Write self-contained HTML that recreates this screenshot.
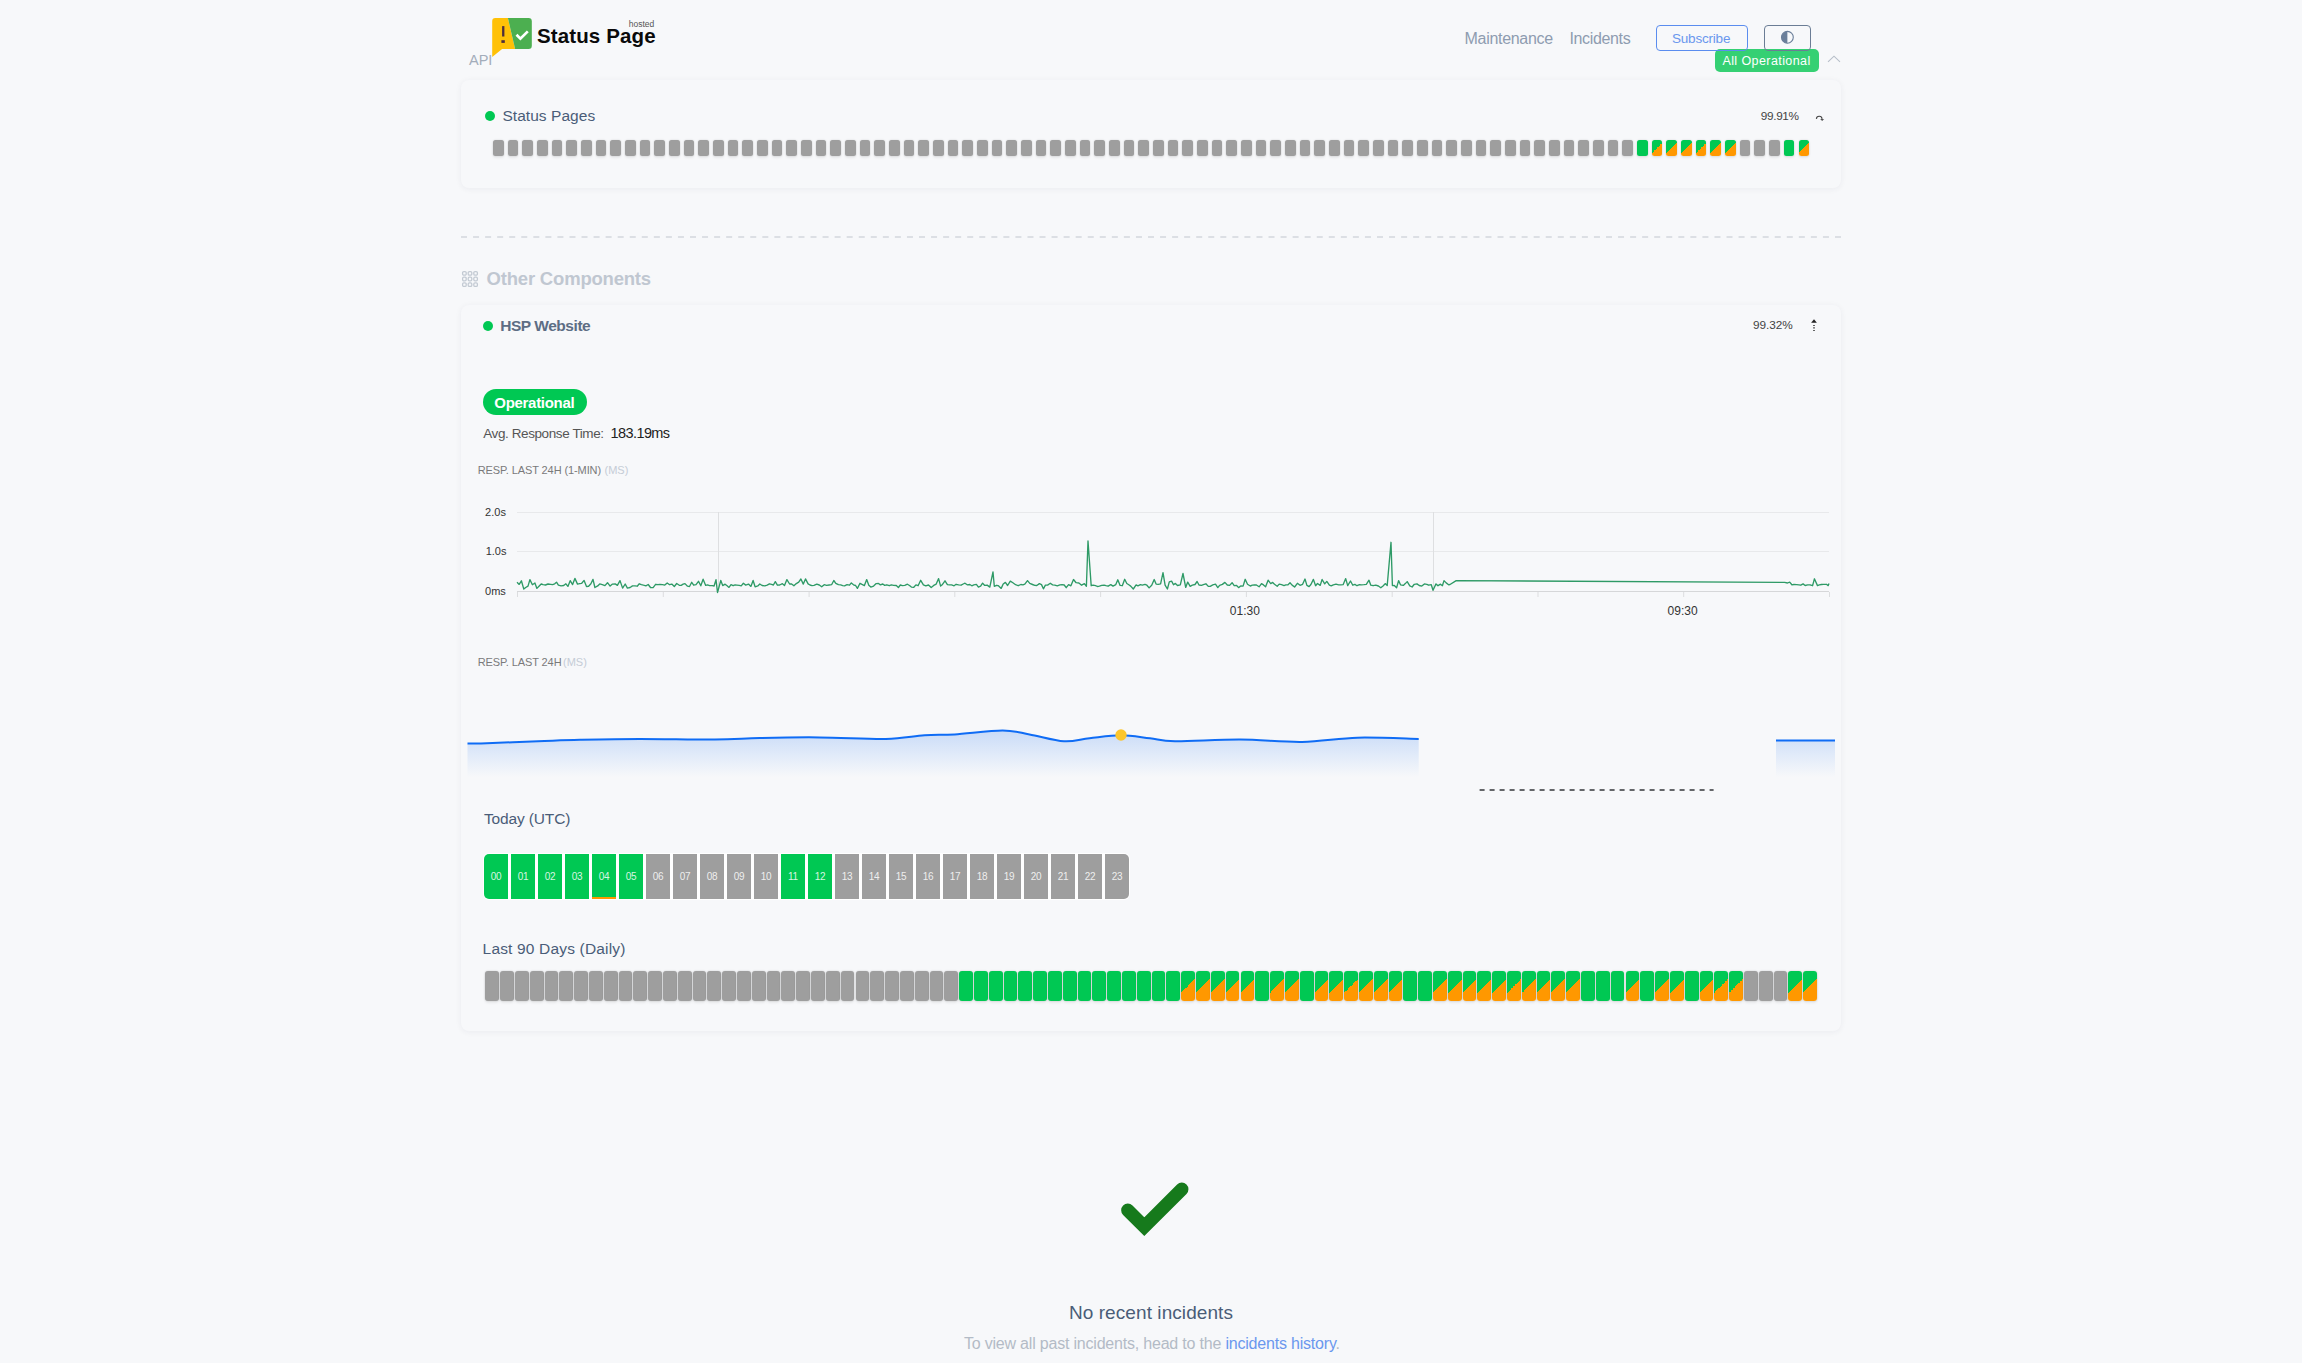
<!DOCTYPE html>
<html><head><meta charset="utf-8"><title>Status Page</title><style>
*{margin:0;padding:0;box-sizing:border-box}
html,body{width:2302px;height:1363px;overflow:hidden;background:#f7f8fa}
body{position:relative;font-family:"Liberation Sans",sans-serif;-webkit-font-smoothing:antialiased}
.abs{position:absolute}
.t{position:absolute;white-space:pre}
.card{position:absolute;border-radius:8px;background:#f7f8fa;box-shadow:0 1px 6px rgba(30,40,60,0.06)}
.b1{position:absolute;top:140px;width:10.5px;height:16px;border-radius:2.5px;box-shadow:0 0 2px rgba(0,0,0,0.16),0 2px 3px rgba(0,0,0,0.06)}
.b2{position:absolute;top:971px;width:13.8px;height:30px;border-radius:3px;box-shadow:0 0 2px rgba(0,0,0,0.2),0 2px 3px rgba(0,0,0,0.06)}
.hb{position:absolute;top:854px;width:24px;height:45px;color:rgba(255,255,255,0.85);font-size:10px;line-height:45px;text-align:center;letter-spacing:-0.2px}
</style></head>
<body>
<div class="card" style="left:461px;top:80px;width:1380px;height:108px"></div>
<div class="card" style="left:461px;top:305px;width:1380px;height:726px"></div>
<svg class="abs" style="left:0;top:0" width="2302" height="1363" viewBox="0 0 2302 1363"><g stroke-width="1" fill="none"><path d="M517 512.5 H1829 M517 551.5 H1829" stroke="#e8e9eb"/><path d="M718.5 512 V592 M1433.5 512 V592" stroke="#dedfe1"/><path d="M517 591.5 H1829" stroke="#d6d7d9"/><path d="M517.5 592 V597 M663.3 592 V597 M809.1 592 V597 M954.8 592 V597 M1100.6 592 V597 M1246.4 592 V597 M1392.2 592 V597 M1538.0 592 V597 M1683.7 592 V597 M1829.5 592 V597" stroke="#dcdddf"/></g><path d="M517.0 582.3 L519.2 584.4 L521.4 580.8 L523.8 589.1 L525.7 587.5 L528.0 586.1 L529.9 579.6 L532.4 584.7 L534.9 583.0 L536.9 588.4 L539.2 586.0 L541.2 584.0 L543.1 584.7 L545.5 585.0 L548.0 584.0 L550.7 584.3 L552.6 584.6 L554.7 583.8 L556.5 582.2 L558.4 585.1 L561.1 585.9 L563.7 585.5 L565.9 583.8 L567.9 586.4 L570.2 580.7 L572.6 584.6 L574.9 578.4 L577.5 584.1 L579.7 583.7 L581.7 583.3 L584.1 580.4 L586.5 586.5 L588.6 586.3 L590.9 583.8 L593.0 579.4 L594.9 587.5 L597.7 585.9 L599.7 583.9 L602.3 584.7 L604.9 585.6 L607.5 582.7 L610.1 586.1 L612.5 584.1 L615.2 583.9 L617.4 585.4 L620.0 580.6 L622.6 588.1 L625.2 584.0 L627.4 588.1 L630.1 587.5 L632.5 585.9 L635.0 585.9 L637.2 586.2 L639.3 583.8 L641.4 584.6 L643.5 585.2 L645.9 585.8 L648.2 584.5 L650.5 587.5 L653.1 587.6 L655.6 584.3 L658.0 584.7 L659.9 584.4 L662.5 584.7 L664.8 585.1 L667.2 583.0 L669.6 584.7 L671.8 584.1 L674.3 586.5 L676.7 583.5 L679.3 585.3 L681.2 585.3 L683.1 584.2 L685.0 583.6 L687.5 586.2 L689.5 586.5 L691.7 582.3 L693.7 585.2 L696.0 584.7 L698.5 581.3 L700.8 585.8 L703.1 579.2 L705.7 585.4 L707.5 584.9 L709.6 585.6 L712.2 585.7 L714.1 586.0 L716.0 579.7 L717.5 592.5 L720.8 580.5 L722.7 585.6 L725.1 584.2 L727.1 585.8 L729.0 587.4 L731.0 584.7 L733.1 585.7 L735.1 584.9 L736.9 585.1 L739.3 585.4 L741.2 585.9 L743.4 583.3 L745.7 585.1 L748.5 584.1 L750.9 586.4 L753.1 580.5 L755.1 586.8 L757.8 585.9 L759.8 584.0 L762.1 585.5 L764.9 585.8 L767.2 585.1 L769.4 583.8 L771.6 584.4 L773.4 585.0 L775.3 581.6 L777.4 585.2 L779.7 585.0 L782.4 583.7 L784.5 585.5 L786.9 579.6 L789.6 584.0 L791.6 583.9 L793.9 585.8 L796.3 583.6 L798.7 582.2 L800.9 579.0 L803.3 584.1 L805.5 578.9 L808.1 583.9 L810.0 585.0 L812.0 585.6 L814.0 585.3 L816.8 584.1 L819.3 585.0 L821.7 586.8 L824.2 584.7 L826.6 585.3 L829.1 585.0 L831.6 584.7 L833.8 580.5 L835.8 583.3 L838.4 584.7 L840.7 584.9 L842.7 585.6 L844.6 585.9 L847.0 584.7 L849.5 585.2 L851.3 582.9 L853.5 584.8 L855.6 585.5 L857.4 588.4 L860.0 583.3 L862.0 584.4 L864.4 585.6 L866.7 579.6 L868.8 585.3 L870.8 587.1 L873.6 586.1 L876.2 583.6 L878.5 583.5 L880.4 584.9 L882.8 584.0 L884.7 585.4 L886.8 584.8 L889.3 585.7 L891.4 584.9 L893.6 585.3 L896.3 585.5 L898.4 587.5 L900.3 585.0 L902.4 585.6 L904.8 585.4 L907.4 584.2 L909.5 585.5 L911.4 587.1 L913.8 587.3 L915.9 584.9 L918.1 585.7 L920.7 580.3 L923.4 584.9 L925.8 585.9 L928.5 585.0 L931.2 587.5 L933.7 585.4 L936.2 584.1 L938.6 578.6 L940.6 586.1 L942.5 584.4 L945.0 580.8 L947.4 584.6 L949.4 584.9 L951.6 584.9 L954.1 585.8 L956.1 584.3 L958.6 584.9 L961.1 585.2 L963.2 584.0 L965.0 583.2 L967.2 584.8 L969.8 584.5 L971.8 585.8 L973.8 584.9 L976.4 584.4 L978.4 587.1 L980.6 586.2 L982.6 583.1 L984.5 585.3 L987.2 585.1 L989.8 587.1 L993.0 572.0 L994.3 586.3 L996.5 585.3 L998.4 585.7 L1001.2 588.4 L1003.2 584.0 L1005.4 582.4 L1007.6 585.5 L1010.3 581.1 L1012.9 582.8 L1015.6 584.7 L1018.2 585.7 L1020.9 584.5 L1023.0 584.8 L1024.8 584.2 L1027.5 580.6 L1029.8 583.4 L1032.5 584.5 L1034.8 585.4 L1036.8 585.5 L1039.4 583.6 L1041.5 584.6 L1043.4 588.8 L1045.4 585.2 L1047.6 585.1 L1050.3 583.3 L1052.6 584.9 L1054.8 585.1 L1057.3 585.9 L1059.9 584.8 L1062.0 584.6 L1064.2 585.0 L1066.2 587.7 L1068.6 584.6 L1070.9 585.8 L1073.5 579.5 L1076.1 582.7 L1078.9 583.0 L1081.6 585.2 L1084.4 583.7 L1086.4 586.3 L1088.0 541.0 L1091.2 585.7 L1093.1 585.2 L1095.6 585.7 L1097.4 586.5 L1099.4 586.2 L1101.7 585.4 L1104.1 585.2 L1106.0 585.7 L1108.1 586.2 L1110.8 584.6 L1113.0 586.1 L1115.8 584.6 L1117.8 579.8 L1120.1 585.4 L1122.3 585.7 L1124.7 579.3 L1126.8 583.5 L1128.8 584.8 L1130.7 586.1 L1133.3 589.0 L1136.1 584.9 L1137.9 585.8 L1140.4 584.6 L1142.3 585.1 L1145.0 584.4 L1146.9 585.2 L1149.1 587.9 L1151.7 585.2 L1154.2 579.5 L1156.1 584.1 L1158.2 584.3 L1160.6 583.8 L1163.0 572.7 L1165.1 585.1 L1167.4 589.0 L1169.3 581.9 L1171.6 581.1 L1173.5 584.8 L1175.4 583.4 L1177.5 585.5 L1180.3 584.9 L1183.0 573.5 L1185.7 587.4 L1187.7 582.1 L1190.2 586.3 L1192.3 585.2 L1195.0 584.5 L1197.1 581.5 L1199.0 585.0 L1201.5 585.4 L1203.4 584.7 L1205.9 583.8 L1208.3 586.4 L1210.2 586.3 L1212.8 584.9 L1215.5 584.2 L1217.8 587.6 L1219.6 585.3 L1222.4 584.4 L1224.9 582.4 L1227.3 585.0 L1229.6 585.4 L1232.1 582.7 L1234.2 585.7 L1236.6 585.5 L1238.6 587.6 L1240.7 586.0 L1243.1 586.1 L1245.2 579.3 L1247.5 584.2 L1250.3 586.0 L1252.3 585.2 L1254.5 584.8 L1256.4 585.0 L1259.1 586.8 L1261.5 583.7 L1263.5 584.9 L1265.6 586.8 L1268.1 580.2 L1270.7 583.6 L1272.7 582.4 L1274.5 584.2 L1277.2 586.3 L1279.2 584.1 L1281.6 584.7 L1284.0 585.6 L1285.8 584.9 L1287.8 584.9 L1290.0 582.8 L1292.1 585.1 L1294.6 587.0 L1297.4 583.3 L1300.0 585.3 L1302.6 584.3 L1305.0 579.0 L1306.9 585.4 L1309.1 586.6 L1310.9 584.5 L1313.4 579.4 L1315.6 585.7 L1317.5 583.5 L1320.2 585.4 L1322.1 579.5 L1324.7 583.9 L1326.8 581.4 L1329.4 585.2 L1331.2 585.8 L1333.3 584.8 L1336.0 584.2 L1338.7 584.8 L1340.9 584.8 L1343.1 584.7 L1345.7 578.6 L1347.7 585.6 L1350.5 581.0 L1352.8 585.2 L1354.9 584.4 L1357.0 585.7 L1359.5 584.7 L1361.4 584.8 L1363.9 584.7 L1366.3 584.4 L1369.0 580.2 L1370.8 585.2 L1373.1 585.7 L1375.8 585.1 L1378.4 586.0 L1380.8 587.7 L1383.3 585.7 L1385.2 583.6 L1387.2 585.6 L1391.0 542.3 L1392.4 585.6 L1394.3 585.4 L1396.6 587.7 L1398.6 580.6 L1400.5 584.8 L1403.3 585.4 L1405.3 583.6 L1407.2 581.6 L1409.8 585.9 L1412.1 587.0 L1414.3 584.3 L1417.0 583.9 L1419.2 585.5 L1421.8 586.1 L1424.4 583.9 L1426.8 584.3 L1428.7 585.2 L1431.3 584.7 L1433.0 590.3 L1436.0 583.9 L1438.0 585.7 L1440.5 584.2 L1442.4 585.7 L1444.0 580.6 L1446.2 582.9 L1448.6 584.8 L1450.0 584.5 L1456.2 580.6 L1784.6 582.4 L1787.5 583.0 L1789.7 582.1 L1791.9 584.8 L1793.9 584.5 L1796.7 584.6 L1798.9 584.9 L1800.8 585.2 L1803.1 583.9 L1805.1 585.5 L1807.7 584.9 L1810.0 584.8 L1812.6 585.7 L1814.4 578.8 L1817.5 585.6 L1819.3 584.9 L1821.4 584.5 L1823.6 584.4 L1826.4 584.3 L1828.2 585.6 L1829.0 583.5" fill="none" stroke="#2e9a66" stroke-width="1.35" stroke-linejoin="round"/><defs><linearGradient id="bf" x1="0" y1="728" x2="0" y2="777" gradientUnits="userSpaceOnUse"><stop offset="0" stop-color="#1a6ff0" stop-opacity="0.22"/><stop offset="1" stop-color="#1a6ff0" stop-opacity="0"/></linearGradient></defs><path d="M467.5 743.4 C469.8 743.4 469.2 743.8 481 743.4 C492.8 743.0 521.5 741.9 538 741.3 C554.5 740.7 563.0 740.2 580 739.8 C597.0 739.4 617.5 738.9 640 738.9 C662.5 738.9 694.8 739.6 714.8 739.5 C734.8 739.4 742.3 738.4 759.8 738 C777.3 737.6 798.7 737.2 819.7 737.4 C840.7 737.5 868.2 739.2 885.7 738.9 C903.2 738.5 913.1 736.0 924.6 735.3 C936.1 734.5 941.6 735.2 954.6 734.4 C967.6 733.6 990.1 730.5 1002.6 730.5 C1015.1 730.5 1019.3 732.6 1029.5 734.4 C1039.7 736.2 1054.0 740.6 1064 741.3 C1074.0 741.9 1080.0 739.3 1089.5 738.3 C1099.0 737.3 1110.9 735.3 1121 735.3 C1131.1 735.3 1141.0 737.3 1150 738.3 C1159.0 739.3 1160.0 741.1 1175 741.3 C1190.0 741.5 1218.8 739.5 1240 739.6 C1261.2 739.7 1282.4 742.2 1302 741.9 C1321.6 741.6 1338.0 738.2 1357.4 737.7 C1376.9 737.2 1408.5 738.8 1418.7 739 L1418.7 782 L467.5 782 Z" fill="url(#bf)"/><path d="M1776 740.5 H1835 V782 H1776 Z" fill="url(#bf)"/><path d="M467.5 743.4 C469.8 743.4 469.2 743.8 481 743.4 C492.8 743.0 521.5 741.9 538 741.3 C554.5 740.7 563.0 740.2 580 739.8 C597.0 739.4 617.5 738.9 640 738.9 C662.5 738.9 694.8 739.6 714.8 739.5 C734.8 739.4 742.3 738.4 759.8 738 C777.3 737.6 798.7 737.2 819.7 737.4 C840.7 737.5 868.2 739.2 885.7 738.9 C903.2 738.5 913.1 736.0 924.6 735.3 C936.1 734.5 941.6 735.2 954.6 734.4 C967.6 733.6 990.1 730.5 1002.6 730.5 C1015.1 730.5 1019.3 732.6 1029.5 734.4 C1039.7 736.2 1054.0 740.6 1064 741.3 C1074.0 741.9 1080.0 739.3 1089.5 738.3 C1099.0 737.3 1110.9 735.3 1121 735.3 C1131.1 735.3 1141.0 737.3 1150 738.3 C1159.0 739.3 1160.0 741.1 1175 741.3 C1190.0 741.5 1218.8 739.5 1240 739.6 C1261.2 739.7 1282.4 742.2 1302 741.9 C1321.6 741.6 1338.0 738.2 1357.4 737.7 C1376.9 737.2 1408.5 738.8 1418.7 739" fill="none" stroke="#0f6cf5" stroke-width="2"/><path d="M1776 740.5 H1835" fill="none" stroke="#0f6cf5" stroke-width="2"/><circle cx="1121" cy="735" r="5.7" fill="#fcc62d"/><path d="M1479.6 790 H1713.6" stroke="#646669" stroke-width="2" stroke-dasharray="5 5"/><path d="M1127.8 1210.2 L1144.3 1226.7 L1181.8 1189.2" fill="none" stroke="#167a1c" stroke-width="13.3" stroke-linecap="round" stroke-linejoin="miter"/></svg>
<svg class="abs" style="left:488px;top:14px" width="48" height="48" viewBox="488 14 48 48">
<path d="M492.2 21.2 Q492.2 18.05 495.3 18.05 L507.9 18.05 L515.1 49 L502.1 49 L492.2 57.1 Z" fill="#ffc107"/>
<path d="M507.9 18.05 L528.6 18.05 Q531.8 18.05 531.8 21.2 L531.8 45.8 Q531.8 49 528.6 49 L515.1 49 Z" fill="#4caf50"/>
<rect x="502.1" y="26.1" width="2.3" height="10.4" fill="#4d2d3d"/>
<rect x="501.4" y="40.2" width="3.4" height="2.7" fill="#4d2d3d"/>
<path d="M516.5 34.8 L520.4 38.7 L527.8 31.4" fill="none" stroke="#fff" stroke-width="2.7"/>
</svg>
<div class="t" style="left:537.00px;top:26.05px;font-size:20.5px;line-height:20.5px;font-weight:700;color:#0a0a0a;letter-spacing:0.12px;">Status Page</div>
<div class="t" style="left:628.70px;top:19.80px;font-size:8.5px;line-height:8.5px;font-weight:400;color:#555;letter-spacing:0px;">hosted</div>
<div class="t" style="left:469.00px;top:53.13px;font-size:14.5px;line-height:14.5px;font-weight:400;color:#a3adbb;letter-spacing:0px;">API</div>
<div class="t" style="left:1464.50px;top:31.46px;font-size:16px;line-height:16px;font-weight:400;color:#8e9cb0;letter-spacing:-0.3px;">Maintenance</div>
<div class="t" style="left:1569.40px;top:31.46px;font-size:16px;line-height:16px;font-weight:400;color:#8e9cb0;letter-spacing:-0.35px;">Incidents</div>
<div class="abs" style="left:1715px;top:49px;width:104px;height:23px;background:#35d073;border-radius:5px"></div>
<div class="abs" style="left:1656px;top:25px;width:92px;height:26px;border:1px solid #5b8def;border-radius:4px"></div>
<div class="t" style="left:1672.00px;top:31.57px;font-size:13.5px;line-height:13.5px;font-weight:400;color:#6a97ee;letter-spacing:-0.2px;">Subscribe</div>
<div class="abs" style="left:1764px;top:25px;width:47px;height:26px;border:1px solid #6b7d95;border-radius:4px"></div>
<svg class="abs" style="left:1779px;top:29px" width="17" height="17" viewBox="0 0 17 17">
<circle cx="8.4" cy="8.3" r="5.9" fill="none" stroke="#6b7f9a" stroke-width="1.1"/>
<path d="M8.4 2.4 A5.9 5.9 0 0 0 8.4 14.2 Z" fill="#6b7f9a"/></svg>
<div class="t" style="left:1722.40px;top:55.12px;font-size:12.5px;line-height:12.5px;font-weight:400;color:#fff;letter-spacing:0.42px;">All Operational</div>
<svg class="abs" style="left:1826px;top:53px" width="16" height="12" viewBox="0 0 16 12">
<path d="M2 8.9 L8 3.2 L14 8.9" fill="none" stroke="#b6bec9" stroke-width="1.1"/></svg>
<div class="abs" style="left:485px;top:111px;width:10px;height:10px;border-radius:50%;background:#00c853"></div>
<div class="t" style="left:502.40px;top:107.88px;font-size:15.5px;line-height:15.5px;font-weight:400;color:#4a5d78;letter-spacing:0.05px;">Status Pages</div>
<div class="t" style="left:1760.80px;top:110.51px;font-size:11.8px;line-height:11.8px;font-weight:400;color:#444;letter-spacing:-0.35px;">99.91%</div>
<svg class="abs" style="left:1812px;top:112px" width="16" height="12" viewBox="0 0 16 12">
<path d="M4.4 6.9 C4.6 3.6 9.6 3.2 10.1 6.8" fill="none" stroke="#444" stroke-width="1.15"/>
<path d="M8.1 7.1 L12.1 7.1 L10.2 9.1 Z" fill="#555"/></svg>
<div class="b1" style="left:493.00px;background:#9e9e9e"></div>
<div class="b1" style="left:507.67px;background:#9e9e9e"></div>
<div class="b1" style="left:522.34px;background:#9e9e9e"></div>
<div class="b1" style="left:537.01px;background:#9e9e9e"></div>
<div class="b1" style="left:551.67px;background:#9e9e9e"></div>
<div class="b1" style="left:566.34px;background:#9e9e9e"></div>
<div class="b1" style="left:581.01px;background:#9e9e9e"></div>
<div class="b1" style="left:595.68px;background:#9e9e9e"></div>
<div class="b1" style="left:610.35px;background:#9e9e9e"></div>
<div class="b1" style="left:625.02px;background:#9e9e9e"></div>
<div class="b1" style="left:639.69px;background:#9e9e9e"></div>
<div class="b1" style="left:654.35px;background:#9e9e9e"></div>
<div class="b1" style="left:669.02px;background:#9e9e9e"></div>
<div class="b1" style="left:683.69px;background:#9e9e9e"></div>
<div class="b1" style="left:698.36px;background:#9e9e9e"></div>
<div class="b1" style="left:713.03px;background:#9e9e9e"></div>
<div class="b1" style="left:727.70px;background:#9e9e9e"></div>
<div class="b1" style="left:742.37px;background:#9e9e9e"></div>
<div class="b1" style="left:757.03px;background:#9e9e9e"></div>
<div class="b1" style="left:771.70px;background:#9e9e9e"></div>
<div class="b1" style="left:786.37px;background:#9e9e9e"></div>
<div class="b1" style="left:801.04px;background:#9e9e9e"></div>
<div class="b1" style="left:815.71px;background:#9e9e9e"></div>
<div class="b1" style="left:830.38px;background:#9e9e9e"></div>
<div class="b1" style="left:845.04px;background:#9e9e9e"></div>
<div class="b1" style="left:859.71px;background:#9e9e9e"></div>
<div class="b1" style="left:874.38px;background:#9e9e9e"></div>
<div class="b1" style="left:889.05px;background:#9e9e9e"></div>
<div class="b1" style="left:903.72px;background:#9e9e9e"></div>
<div class="b1" style="left:918.39px;background:#9e9e9e"></div>
<div class="b1" style="left:933.06px;background:#9e9e9e"></div>
<div class="b1" style="left:947.72px;background:#9e9e9e"></div>
<div class="b1" style="left:962.39px;background:#9e9e9e"></div>
<div class="b1" style="left:977.06px;background:#9e9e9e"></div>
<div class="b1" style="left:991.73px;background:#9e9e9e"></div>
<div class="b1" style="left:1006.40px;background:#9e9e9e"></div>
<div class="b1" style="left:1021.07px;background:#9e9e9e"></div>
<div class="b1" style="left:1035.74px;background:#9e9e9e"></div>
<div class="b1" style="left:1050.40px;background:#9e9e9e"></div>
<div class="b1" style="left:1065.07px;background:#9e9e9e"></div>
<div class="b1" style="left:1079.74px;background:#9e9e9e"></div>
<div class="b1" style="left:1094.41px;background:#9e9e9e"></div>
<div class="b1" style="left:1109.08px;background:#9e9e9e"></div>
<div class="b1" style="left:1123.75px;background:#9e9e9e"></div>
<div class="b1" style="left:1138.42px;background:#9e9e9e"></div>
<div class="b1" style="left:1153.08px;background:#9e9e9e"></div>
<div class="b1" style="left:1167.75px;background:#9e9e9e"></div>
<div class="b1" style="left:1182.42px;background:#9e9e9e"></div>
<div class="b1" style="left:1197.09px;background:#9e9e9e"></div>
<div class="b1" style="left:1211.76px;background:#9e9e9e"></div>
<div class="b1" style="left:1226.43px;background:#9e9e9e"></div>
<div class="b1" style="left:1241.10px;background:#9e9e9e"></div>
<div class="b1" style="left:1255.76px;background:#9e9e9e"></div>
<div class="b1" style="left:1270.43px;background:#9e9e9e"></div>
<div class="b1" style="left:1285.10px;background:#9e9e9e"></div>
<div class="b1" style="left:1299.77px;background:#9e9e9e"></div>
<div class="b1" style="left:1314.44px;background:#9e9e9e"></div>
<div class="b1" style="left:1329.11px;background:#9e9e9e"></div>
<div class="b1" style="left:1343.78px;background:#9e9e9e"></div>
<div class="b1" style="left:1358.44px;background:#9e9e9e"></div>
<div class="b1" style="left:1373.11px;background:#9e9e9e"></div>
<div class="b1" style="left:1387.78px;background:#9e9e9e"></div>
<div class="b1" style="left:1402.45px;background:#9e9e9e"></div>
<div class="b1" style="left:1417.12px;background:#9e9e9e"></div>
<div class="b1" style="left:1431.79px;background:#9e9e9e"></div>
<div class="b1" style="left:1446.46px;background:#9e9e9e"></div>
<div class="b1" style="left:1461.12px;background:#9e9e9e"></div>
<div class="b1" style="left:1475.79px;background:#9e9e9e"></div>
<div class="b1" style="left:1490.46px;background:#9e9e9e"></div>
<div class="b1" style="left:1505.13px;background:#9e9e9e"></div>
<div class="b1" style="left:1519.80px;background:#9e9e9e"></div>
<div class="b1" style="left:1534.47px;background:#9e9e9e"></div>
<div class="b1" style="left:1549.13px;background:#9e9e9e"></div>
<div class="b1" style="left:1563.80px;background:#9e9e9e"></div>
<div class="b1" style="left:1578.47px;background:#9e9e9e"></div>
<div class="b1" style="left:1593.14px;background:#9e9e9e"></div>
<div class="b1" style="left:1607.81px;background:#9e9e9e"></div>
<div class="b1" style="left:1622.48px;background:#9e9e9e"></div>
<div class="b1" style="left:1637.15px;background:#00c853"></div>
<div class="b1" style="left:1651.81px;background:linear-gradient(135deg,#00c853 50%,#ff9800 50%)"></div>
<div class="b1" style="left:1666.48px;background:linear-gradient(135deg,#00c853 50%,#ff9800 50%)"></div>
<div class="b1" style="left:1681.15px;background:linear-gradient(135deg,#00c853 50%,#ff9800 50%)"></div>
<div class="b1" style="left:1695.82px;background:linear-gradient(135deg,#00c853 50%,#ff9800 50%)"></div>
<div class="b1" style="left:1710.49px;background:linear-gradient(135deg,#00c853 50%,#ff9800 50%)"></div>
<div class="b1" style="left:1725.16px;background:linear-gradient(135deg,#00c853 50%,#ff9800 50%)"></div>
<div class="b1" style="left:1739.83px;background:#9e9e9e"></div>
<div class="b1" style="left:1754.49px;background:#9e9e9e"></div>
<div class="b1" style="left:1769.16px;background:#9e9e9e"></div>
<div class="b1" style="left:1783.83px;background:#00c853"></div>
<div class="b1" style="left:1798.50px;background:linear-gradient(135deg,#00c853 50%,#ff9800 50%)"></div>
<svg class="abs" style="left:461px;top:236px" width="1380" height="2"><path d="M0 1 H1380" stroke="#dcdfe4" stroke-width="2" stroke-dasharray="6 6.0526"/></svg>
<svg class="abs" style="left:461px;top:270px" width="18" height="18" viewBox="0 0 18 18"><rect x="1.6" y="1.6" width="3.6" height="3.6" rx="1.2" fill="none" stroke="#c3cad3" stroke-width="1.3"/><rect x="7.2" y="1.6" width="3.6" height="3.6" rx="1.2" fill="none" stroke="#c3cad3" stroke-width="1.3"/><rect x="12.8" y="1.6" width="3.6" height="3.6" rx="1.2" fill="none" stroke="#c3cad3" stroke-width="1.3"/><rect x="1.6" y="7.2" width="3.6" height="3.6" rx="1.2" fill="none" stroke="#c3cad3" stroke-width="1.3"/><rect x="7.2" y="7.2" width="3.6" height="3.6" rx="1.2" fill="none" stroke="#c3cad3" stroke-width="1.3"/><rect x="12.8" y="7.2" width="3.6" height="3.6" rx="1.2" fill="none" stroke="#c3cad3" stroke-width="1.3"/><rect x="1.6" y="12.8" width="3.6" height="3.6" rx="1.2" fill="none" stroke="#c3cad3" stroke-width="1.3"/><rect x="7.2" y="12.8" width="3.6" height="3.6" rx="1.2" fill="none" stroke="#c3cad3" stroke-width="1.3"/><rect x="12.8" y="12.8" width="3.6" height="3.6" rx="1.2" fill="none" stroke="#c3cad3" stroke-width="1.3"/></svg>
<div class="t" style="left:486.60px;top:270.14px;font-size:18.5px;line-height:18.5px;font-weight:700;color:#c0c7d1;letter-spacing:-0.2px;">Other Components</div>
<div class="abs" style="left:483px;top:321px;width:10px;height:10px;border-radius:50%;background:#00c853"></div>
<div class="t" style="left:500.20px;top:318.28px;font-size:15.5px;line-height:15.5px;font-weight:700;color:#5d6d84;letter-spacing:-0.45px;">HSP Website</div>
<div class="t" style="left:1753.00px;top:320.41px;font-size:11.8px;line-height:11.8px;font-weight:400;color:#444;letter-spacing:-0.05px;">99.32%</div>
<svg class="abs" style="left:1808px;top:317px" width="12" height="16" viewBox="0 0 12 16">
<path d="M6 2.2 L3.1 5.7 L8.9 5.7 Z" fill="#222"/>
<path d="M6 8 V9 M6 10.3 V11.6 M6 13 V14" stroke="#333" stroke-width="1.5"/></svg>
<div class="abs" style="left:483px;top:389px;width:104px;height:26px;border-radius:13px;background:#00c853"></div>
<div class="t" style="left:494.30px;top:394.90px;font-size:15px;line-height:15px;font-weight:700;color:#fff;letter-spacing:-0.3px;">Operational</div>
<div class="t" style="left:483.20px;top:427.07px;font-size:13.5px;line-height:13.5px;font-weight:400;color:#555;letter-spacing:-0.4px;">Avg. Response Time:</div>
<div class="t" style="left:610.60px;top:426.33px;font-size:14.5px;line-height:14.5px;font-weight:400;color:#222;letter-spacing:-0.6px;">183.19ms</div>
<div class="t" style="left:477.70px;top:464.74px;font-size:11px;line-height:11px;font-weight:400;color:#7a7a7a;letter-spacing:-0.1px;">RESP. LAST 24H (1-MIN)</div>
<div class="t" style="left:604.50px;top:464.74px;font-size:11px;line-height:11px;font-weight:400;color:#c5ccd6;letter-spacing:0px;">(MS)</div>
<div class="t" style="left:485.10px;top:506.59px;font-size:11px;line-height:11px;font-weight:400;color:#333;letter-spacing:0px;">2.0s</div>
<div class="t" style="left:485.70px;top:545.79px;font-size:11px;line-height:11px;font-weight:400;color:#333;letter-spacing:0px;">1.0s</div>
<div class="t" style="left:485.10px;top:585.69px;font-size:11px;line-height:11px;font-weight:400;color:#333;letter-spacing:0px;">0ms</div>
<div class="t" style="left:1229.80px;top:604.59px;font-size:12px;line-height:12px;font-weight:400;color:#333;letter-spacing:0px;">01:30</div>
<div class="t" style="left:1667.60px;top:604.59px;font-size:12px;line-height:12px;font-weight:400;color:#333;letter-spacing:0px;">09:30</div>
<div class="t" style="left:477.70px;top:656.74px;font-size:11px;line-height:11px;font-weight:400;color:#7a7a7a;letter-spacing:-0.1px;">RESP. LAST 24H</div>
<div class="t" style="left:563.00px;top:656.74px;font-size:11px;line-height:11px;font-weight:400;color:#c5ccd6;letter-spacing:0px;">(MS)</div>
<div class="t" style="left:484.00px;top:811.48px;font-size:15.5px;line-height:15.5px;font-weight:400;color:#4a5d78;letter-spacing:-0.15px;">Today (UTC)</div>
<div class="abs" style="left:482.8px;top:852.8px;width:647px;height:47.2px;background:#fff;border-radius:6px"></div>
<div class="hb" style="left:484px;background:#00c853;border-radius:5px 0 0 5px;">00</div>
<div class="hb" style="left:511px;background:#00c853;">01</div>
<div class="hb" style="left:538px;background:#00c853;">02</div>
<div class="hb" style="left:565px;background:#00c853;">03</div>
<div class="hb" style="left:592px;background:#00c853;box-shadow:inset 0 -2px 0 #ff9800;">04</div>
<div class="hb" style="left:619px;background:#00c853;">05</div>
<div class="hb" style="left:646px;background:#9e9e9e;">06</div>
<div class="hb" style="left:673px;background:#9e9e9e;">07</div>
<div class="hb" style="left:700px;background:#9e9e9e;">08</div>
<div class="hb" style="left:727px;background:#9e9e9e;">09</div>
<div class="hb" style="left:754px;background:#9e9e9e;">10</div>
<div class="hb" style="left:781px;background:#00c853;">11</div>
<div class="hb" style="left:808px;background:#00c853;">12</div>
<div class="hb" style="left:835px;background:#9e9e9e;">13</div>
<div class="hb" style="left:862px;background:#9e9e9e;">14</div>
<div class="hb" style="left:889px;background:#9e9e9e;">15</div>
<div class="hb" style="left:916px;background:#9e9e9e;">16</div>
<div class="hb" style="left:943px;background:#9e9e9e;">17</div>
<div class="hb" style="left:970px;background:#9e9e9e;">18</div>
<div class="hb" style="left:997px;background:#9e9e9e;">19</div>
<div class="hb" style="left:1024px;background:#9e9e9e;">20</div>
<div class="hb" style="left:1051px;background:#9e9e9e;">21</div>
<div class="hb" style="left:1078px;background:#9e9e9e;">22</div>
<div class="hb" style="left:1105px;background:#9e9e9e;border-radius:0 5px 5px 0;">23</div>
<div class="t" style="left:482.60px;top:941.28px;font-size:15.5px;line-height:15.5px;font-weight:400;color:#4a5d78;letter-spacing:0.17px;">Last 90 Days (Daily)</div>
<div class="b2" style="left:485.30px;background:#9e9e9e"></div>
<div class="b2" style="left:500.11px;background:#9e9e9e"></div>
<div class="b2" style="left:514.92px;background:#9e9e9e"></div>
<div class="b2" style="left:529.72px;background:#9e9e9e"></div>
<div class="b2" style="left:544.53px;background:#9e9e9e"></div>
<div class="b2" style="left:559.34px;background:#9e9e9e"></div>
<div class="b2" style="left:574.15px;background:#9e9e9e"></div>
<div class="b2" style="left:588.96px;background:#9e9e9e"></div>
<div class="b2" style="left:603.76px;background:#9e9e9e"></div>
<div class="b2" style="left:618.57px;background:#9e9e9e"></div>
<div class="b2" style="left:633.38px;background:#9e9e9e"></div>
<div class="b2" style="left:648.19px;background:#9e9e9e"></div>
<div class="b2" style="left:662.99px;background:#9e9e9e"></div>
<div class="b2" style="left:677.80px;background:#9e9e9e"></div>
<div class="b2" style="left:692.61px;background:#9e9e9e"></div>
<div class="b2" style="left:707.42px;background:#9e9e9e"></div>
<div class="b2" style="left:722.23px;background:#9e9e9e"></div>
<div class="b2" style="left:737.03px;background:#9e9e9e"></div>
<div class="b2" style="left:751.84px;background:#9e9e9e"></div>
<div class="b2" style="left:766.65px;background:#9e9e9e"></div>
<div class="b2" style="left:781.46px;background:#9e9e9e"></div>
<div class="b2" style="left:796.27px;background:#9e9e9e"></div>
<div class="b2" style="left:811.07px;background:#9e9e9e"></div>
<div class="b2" style="left:825.88px;background:#9e9e9e"></div>
<div class="b2" style="left:840.69px;background:#9e9e9e"></div>
<div class="b2" style="left:855.50px;background:#9e9e9e"></div>
<div class="b2" style="left:870.30px;background:#9e9e9e"></div>
<div class="b2" style="left:885.11px;background:#9e9e9e"></div>
<div class="b2" style="left:899.92px;background:#9e9e9e"></div>
<div class="b2" style="left:914.73px;background:#9e9e9e"></div>
<div class="b2" style="left:929.54px;background:#9e9e9e"></div>
<div class="b2" style="left:944.34px;background:#9e9e9e"></div>
<div class="b2" style="left:959.15px;background:#00c853"></div>
<div class="b2" style="left:973.96px;background:#00c853"></div>
<div class="b2" style="left:988.77px;background:#00c853"></div>
<div class="b2" style="left:1003.58px;background:#00c853"></div>
<div class="b2" style="left:1018.38px;background:#00c853"></div>
<div class="b2" style="left:1033.19px;background:#00c853"></div>
<div class="b2" style="left:1048.00px;background:#00c853"></div>
<div class="b2" style="left:1062.81px;background:#00c853"></div>
<div class="b2" style="left:1077.61px;background:#00c853"></div>
<div class="b2" style="left:1092.42px;background:#00c853"></div>
<div class="b2" style="left:1107.23px;background:#00c853"></div>
<div class="b2" style="left:1122.04px;background:#00c853"></div>
<div class="b2" style="left:1136.85px;background:#00c853"></div>
<div class="b2" style="left:1151.65px;background:#00c853"></div>
<div class="b2" style="left:1166.46px;background:#00c853"></div>
<div class="b2" style="left:1181.27px;background:linear-gradient(135deg,#00c853 50%,#ff9800 50%)"></div>
<div class="b2" style="left:1196.08px;background:linear-gradient(135deg,#00c853 50%,#ff9800 50%)"></div>
<div class="b2" style="left:1210.89px;background:linear-gradient(135deg,#00c853 50%,#ff9800 50%)"></div>
<div class="b2" style="left:1225.69px;background:linear-gradient(135deg,#00c853 50%,#ff9800 50%)"></div>
<div class="b2" style="left:1240.50px;background:linear-gradient(135deg,#00c853 50%,#ff9800 50%)"></div>
<div class="b2" style="left:1255.31px;background:#00c853"></div>
<div class="b2" style="left:1270.12px;background:linear-gradient(135deg,#00c853 50%,#ff9800 50%)"></div>
<div class="b2" style="left:1284.92px;background:linear-gradient(135deg,#00c853 50%,#ff9800 50%)"></div>
<div class="b2" style="left:1299.73px;background:#00c853"></div>
<div class="b2" style="left:1314.54px;background:linear-gradient(135deg,#00c853 50%,#ff9800 50%)"></div>
<div class="b2" style="left:1329.35px;background:linear-gradient(135deg,#00c853 50%,#ff9800 50%)"></div>
<div class="b2" style="left:1344.16px;background:linear-gradient(135deg,#00c853 50%,#ff9800 50%)"></div>
<div class="b2" style="left:1358.96px;background:linear-gradient(135deg,#00c853 50%,#ff9800 50%)"></div>
<div class="b2" style="left:1373.77px;background:linear-gradient(135deg,#00c853 50%,#ff9800 50%)"></div>
<div class="b2" style="left:1388.58px;background:linear-gradient(135deg,#00c853 50%,#ff9800 50%)"></div>
<div class="b2" style="left:1403.39px;background:#00c853"></div>
<div class="b2" style="left:1418.20px;background:#00c853"></div>
<div class="b2" style="left:1433.00px;background:linear-gradient(135deg,#00c853 50%,#ff9800 50%)"></div>
<div class="b2" style="left:1447.81px;background:linear-gradient(135deg,#00c853 50%,#ff9800 50%)"></div>
<div class="b2" style="left:1462.62px;background:linear-gradient(135deg,#00c853 50%,#ff9800 50%)"></div>
<div class="b2" style="left:1477.43px;background:linear-gradient(135deg,#00c853 50%,#ff9800 50%)"></div>
<div class="b2" style="left:1492.23px;background:linear-gradient(135deg,#00c853 50%,#ff9800 50%)"></div>
<div class="b2" style="left:1507.04px;background:linear-gradient(135deg,#00c853 50%,#ff9800 50%)"></div>
<div class="b2" style="left:1521.85px;background:linear-gradient(135deg,#00c853 50%,#ff9800 50%)"></div>
<div class="b2" style="left:1536.66px;background:linear-gradient(135deg,#00c853 50%,#ff9800 50%)"></div>
<div class="b2" style="left:1551.47px;background:linear-gradient(135deg,#00c853 50%,#ff9800 50%)"></div>
<div class="b2" style="left:1566.27px;background:linear-gradient(135deg,#00c853 50%,#ff9800 50%)"></div>
<div class="b2" style="left:1581.08px;background:#00c853"></div>
<div class="b2" style="left:1595.89px;background:#00c853"></div>
<div class="b2" style="left:1610.70px;background:#00c853"></div>
<div class="b2" style="left:1625.51px;background:linear-gradient(135deg,#00c853 50%,#ff9800 50%)"></div>
<div class="b2" style="left:1640.31px;background:#00c853"></div>
<div class="b2" style="left:1655.12px;background:linear-gradient(135deg,#00c853 50%,#ff9800 50%)"></div>
<div class="b2" style="left:1669.93px;background:linear-gradient(135deg,#00c853 50%,#ff9800 50%)"></div>
<div class="b2" style="left:1684.74px;background:#00c853"></div>
<div class="b2" style="left:1699.54px;background:linear-gradient(135deg,#00c853 50%,#ff9800 50%)"></div>
<div class="b2" style="left:1714.35px;background:linear-gradient(135deg,#00c853 50%,#ff9800 50%)"></div>
<div class="b2" style="left:1729.16px;background:linear-gradient(135deg,#00c853 50%,#ff9800 50%)"></div>
<div class="b2" style="left:1743.97px;background:#9e9e9e"></div>
<div class="b2" style="left:1758.78px;background:#9e9e9e"></div>
<div class="b2" style="left:1773.58px;background:#9e9e9e"></div>
<div class="b2" style="left:1788.39px;background:linear-gradient(135deg,#00c853 50%,#ff9800 50%)"></div>
<div class="b2" style="left:1803.20px;background:linear-gradient(135deg,#00c853 50%,#ff9800 50%)"></div>
<div class="t" style="left:1068.90px;top:1302.92px;font-size:19px;line-height:19px;font-weight:400;color:#4a5d78;letter-spacing:0.08px;">No recent incidents</div>
<div class="t" style="left:963.90px;top:1336.26px;font-size:16px;line-height:16px;font-weight:400;color:#b3bbc6;letter-spacing:-0.2px;">To view all past incidents, head to the <span style="color:#6a97ee">incidents history</span>.</div>
</body></html>
